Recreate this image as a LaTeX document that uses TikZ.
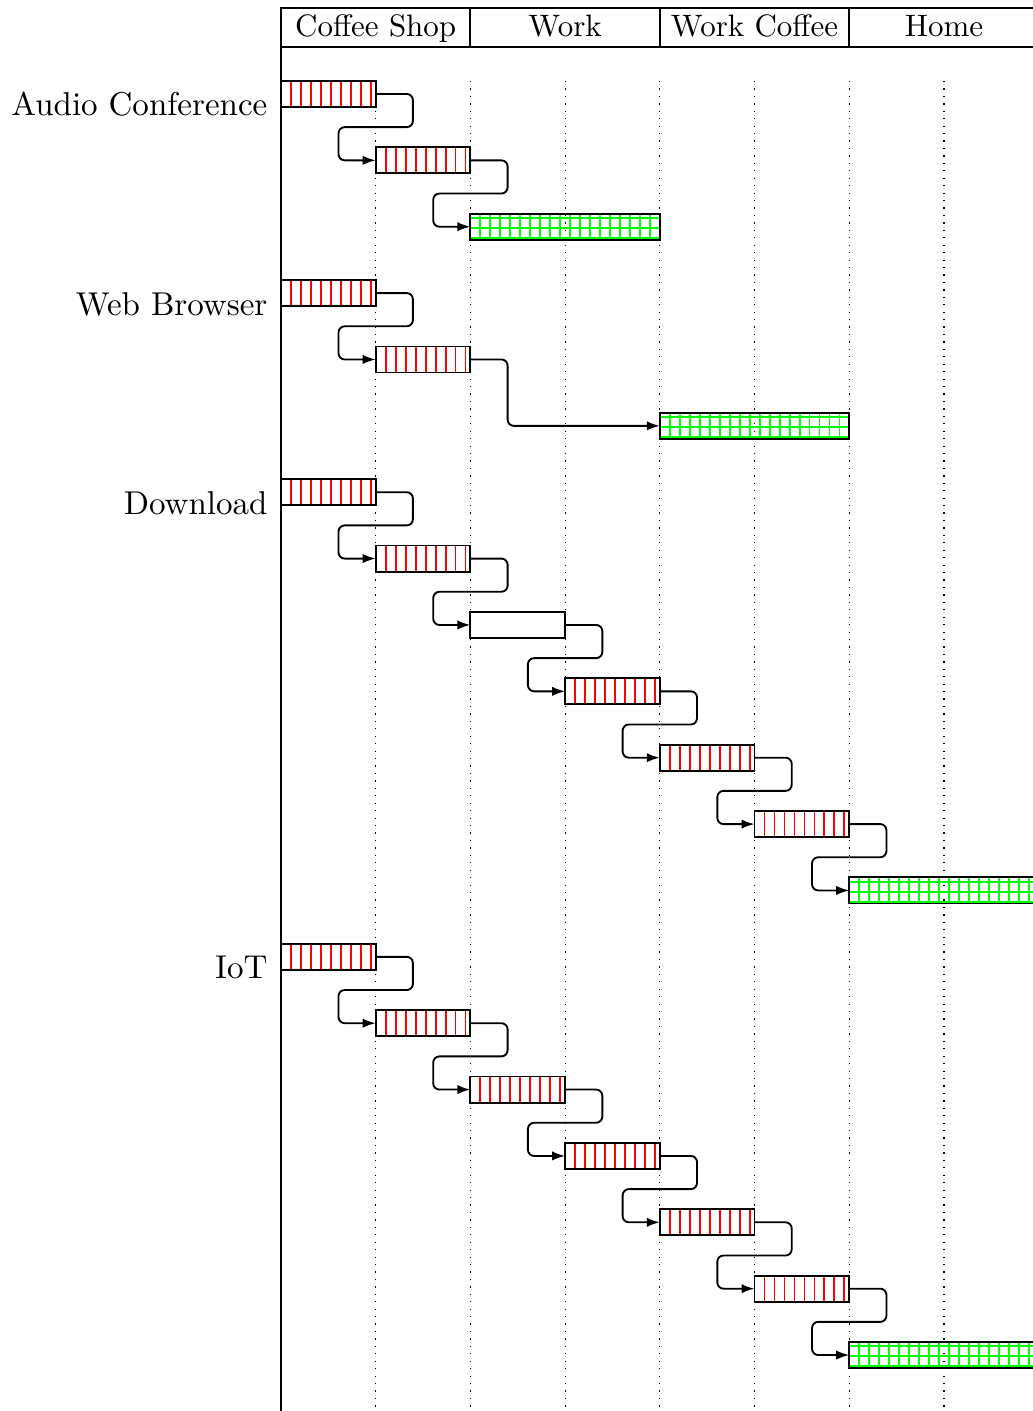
\documentclass[tikz,border=0pt]{standalone}
\usepackage{xcolor}
\usepackage{tikz}
\usetikzlibrary{arrows.meta}
\definecolor{Busy}{HTML}{FF0000}
\definecolor{Done}{HTML}{00FF00}
\definecolor{Ink}{HTML}{000000}

\begin{document}
\begin{tikzpicture}[x=30.55pt,y=21.41pt,
  bar/.style={draw=Ink,semithick,inner sep=0pt,outer sep=0pt,minimum height=8.4pt},
  busy/.style={bar,path picture={
    \foreach \i in {1,...,9}
      \draw[Busy] ([xshift=\i*3.22pt]path picture bounding box.south west) -- ++(0,10pt);}},
  done/.style={bar,path picture={
    \foreach \i in {1,...,20}
      \draw[Done] ([xshift=\i*3.22pt]path picture bounding box.south west) -- ++(0,10pt);
    \foreach \j in {1.4,4.6,7.8}
      \draw[Done] ([yshift=-\j pt]path picture bounding box.north west) -- ++(70pt,0);}},
  idle/.style={bar},
  link/.style={draw=Ink,semithick,rounded corners=2pt,-{Latex[length=4.2pt,width=3pt]}},
  lbl/.style={anchor=base east,inner sep=0pt,font=\fontsize{10.65}{13}\selectfont},
  ttl/.style={anchor=base,inner sep=0pt}]
  \useasboundingbox (-2.967,1.416) rectangle (7.940,-19.843);
  \clip (-2.967,1.416) rectangle (7.940,-19.843);
  \def\cw{30.55pt}
  % grid
  \foreach \c in {1,...,7}
    \draw[Ink,dotted] (\c,0.196) -- (\c,-20);
  \draw[Ink,semithick] (0,1.296) -- (0,-20);
  % header
  \draw[Ink,semithick] (0,1.296) rectangle (8,0.708);
  \foreach \c in {2,4,6}
    \draw[Ink,semithick] (\c,1.296) -- (\c,0.708);
  \foreach \c/\lab in {1/Coffee Shop,3/Work,5/Work Coffee,7/Home}
    \node[ttl] (t\c) at (\c,0.859) {\lab};
  % labels
  \foreach \r/\lab in {0/Audio Conference,3/Web Browser,6/Download,13/IoT}
    \node[lbl] (l\r) at (-0.137,-\r-0.331) {\lab};
  % bars
  \foreach \r/\a/\b/\k in {
    0/0/1/busy, 1/1/2/busy, 2/2/4/done,
    3/0/1/busy, 4/1/2/busy, 5/4/6/done,
    6/0/1/busy, 7/1/2/busy, 8/2/3/idle, 9/3/4/busy,
    10/4/5/busy, 11/5/6/busy, 12/6/8/done,
    13/0/1/busy, 14/1/2/busy, 15/2/3/busy, 16/3/4/busy,
    17/4/5/busy, 18/5/6/busy, 19/6/8/done}
    \node[\k,minimum width={(\b-\a)*\cw}] (b\r) at ({(\a+\b)/2},-\r) {};
  % links
  \foreach \s/\t in {0/1,1/2,3/4,6/7,7/8,8/9,9/10,10/11,11/12,
                     13/14,14/15,15/16,16/17,17/18,18/19}
    \draw[link] (b\s.east) -- ++(12pt,0) -- ++(0,-0.5)
      -| ([xshift=-12pt]b\t.west) -- (b\t.west);
  \draw[link] (b4.east) -- ++(12pt,0) |- (b5.west);
\end{tikzpicture}
\end{document}
